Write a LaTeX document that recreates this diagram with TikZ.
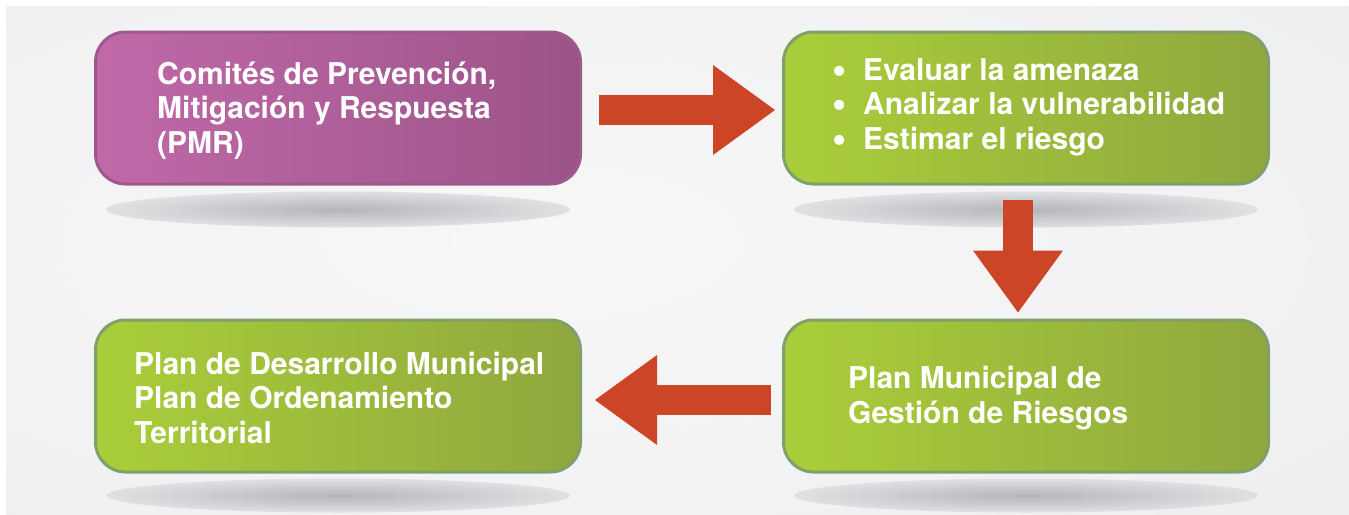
\documentclass[tikz,border=0pt]{standalone}
\usepackage{fontspec}
\setmainfont{TeX Gyre Heros}
\usetikzlibrary{arrows.meta}

\definecolor{purpL}{HTML}{C169A9}
\definecolor{purpR}{HTML}{9C5488}
\definecolor{purpLine}{HTML}{9E598B}
\definecolor{greenL}{HTML}{AACE3A}
\definecolor{greenR}{HTML}{8FA83E}
\definecolor{greenLine}{HTML}{7F9F6B}
\definecolor{arrowRed}{HTML}{CC4527}
\definecolor{bgIn}{HTML}{F7F7F8}
\definecolor{bgOut}{HTML}{E3E4E6}
\definecolor{shadowC}{HTML}{B4B6BA}
\definecolor{shadowOut}{HTML}{EFF0F1}

\pgfdeclareradialshading{bgfade}{\pgfpoint{-6bp}{2bp}}{color(0bp)=(bgIn); color(25bp)=(bgIn!75!bgOut); color(70bp)=(bgOut); color(80bp)=(bgOut)}
\pgfdeclareradialshading{floorfade}{\pgfpoint{0bp}{0bp}}{color(0bp)=(shadowC); color(12bp)=(shadowC!65!shadowOut); color(30bp)=(shadowOut!88!shadowC); color(48bp)=(shadowOut); color(50bp)=(shadowOut)}

\newcommand{\bul}{\makebox[31pt][l]{\smash{\raisebox{-3pt}{\scalebox{1.35}{•}}}}}

\tikzset{
  box/.style={rectangle, rounded corners=30pt, line width=3pt,
    minimum width=485pt, minimum height=152pt, inner sep=0pt},
  purplebox/.style={box, draw=purpLine, left color=purpL, right color=purpR},
  greenbox/.style={box, draw=greenLine, left color=greenL, right color=greenR},
  boxtext/.style={anchor=base west, inner sep=0pt, align=left, text=white,
    font=\fontsize{30}{34.5}\selectfont\bfseries},
  floor/.style={shading=floorfade},
  flow/.style={draw=arrowRed, line width=30pt,
    -{Triangle[length=62pt, width=90pt, line width=0pt]}}
}

\begin{document}
\begin{tikzpicture}[x=1pt, y=-1pt]
  \useasboundingbox (0,0) rectangle (1349,514);
  \fill[white] (0,0) rectangle (1349,514);
  \shade[shading=bgfade] (6,6) rectangle (1349,514);

  % boxes
  \node[purplebox] (pmr) at (338,108) {};
  \node[greenbox] (eval) at (1026,108) {};
  \node[greenbox] (pmgr) at (1026,396) {};
  \node[greenbox] (pdm) at (338,396) {};

  % shadows under the boxes
  \shade[floor] ([yshift=-24pt]pmr.south) ellipse [x radius=232pt, y radius=18pt];
  \shade[floor] ([yshift=-24pt]eval.south) ellipse [x radius=232pt, y radius=18pt];
  \shade[floor] ([yshift=-22pt]pmgr.south) ellipse [x radius=232pt, y radius=17pt];
  \shade[floor] ([yshift=-22pt]pdm.south) ellipse [x radius=232pt, y radius=17pt];

  % arrows
  \draw[flow, shorten <=17pt, shorten >=7pt] ([yshift=-2pt]pmr.east) -- ([yshift=-2pt]eval.west);
  \draw[flow, shorten <=14pt, shorten >=6pt] ([xshift=-8pt]eval.south) -- ([xshift=-8pt]pmgr.north);
  \draw[flow, shorten <=11pt, shorten >=13pt] ([yshift=-4pt]pmgr.west) -- ([yshift=-4pt]pdm.east);

  % texts (base = last line)
  \node[boxtext] (t1) at ([xshift=63pt, yshift=-45pt]pmr.west)
    {Comités de Prevención,\\Mitigación y Respuesta\\(PMR)};
  \node[boxtext] (t2) at ([xshift=50pt, yshift=-41pt]eval.west)
    {\bul Evaluar la amenaza\\
     \bul Analizar la vulnerabilidad\\
     \bul Estimar el riesgo};
  \node[boxtext] (t3) at ([xshift=66pt, yshift=-27pt]pmgr.west)
    {Plan Municipal de\\Gestión de Riesgos};
  \node[boxtext] (t4) at ([xshift=40pt, yshift=-47pt]pdm.west)
    {Plan de Desarrollo Municipal\\Plan de Ordenamiento\\Territorial};
\end{tikzpicture}
\end{document}
